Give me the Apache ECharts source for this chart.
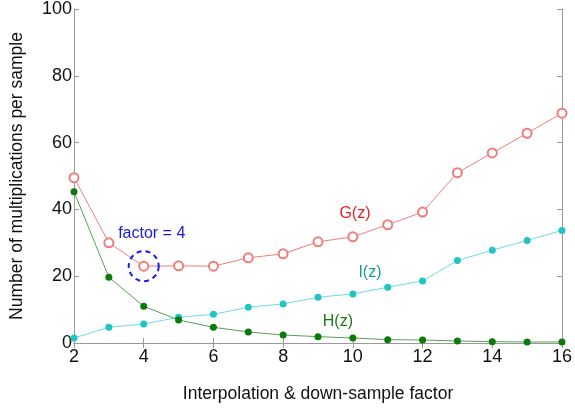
<!DOCTYPE html>
<html>
<head>
<meta charset="utf-8">
<script src="https://cdn.jsdelivr.net/npm/echarts@6/dist/echarts.min.js"></script>
<style>
  html, body { margin: 0; padding: 0; background: #fff; }
  #chart { width: 575px; height: 408px; }
</style>
</head>
<body>
<div id="chart"></div>
<script>
const factors = [2, 3, 4, 5, 6, 7, 8, 9, 10, 11, 12, 13, 14, 15, 16];
const gValues = [49.5, 30.0, 23.0, 23.1, 23.0, 25.5, 26.7, 30.3, 31.8, 35.4, 39.2, 51.0, 56.9, 62.8, 68.8];
const iValues = [1.5, 4.7, 5.7, 7.7, 8.6, 10.7, 11.7, 13.7, 14.7, 16.7, 18.6, 24.7, 27.8, 30.7, 33.7];
const hValues = [45.3, 19.7, 11.0, 6.9, 4.7, 3.3, 2.4, 1.9, 1.5, 1.0, 0.9, 0.6, 0.4, 0.3, 0.3];

const font = 'Liberation Sans, Arial, sans-serif';
const pairs = vals => factors.map((f, i) => [f, vals[i]]);

const textMark = (text, coord, color) => ({
    coord: coord,
    symbolSize: 0,
    label: { show: true, position: 'inside', formatter: text, color: color, fontSize: 16, fontFamily: font }
});

const chart = echarts.init(document.getElementById('chart'));
const frameLine = { show: true, lineStyle: { color: '#999', width: 1 } };
const frameTick = { show: true, inside: true, length: 5, lineStyle: { color: '#999' } };

chart.setOption({
    animation: false,
    grid: { left: 73, right: 12, top: 8, bottom: 63 },
    xAxis: [
        {
            type: 'value', min: 2, max: 16, interval: 2,
            axisLine: frameLine, axisTick: frameTick, splitLine: { show: false },
            axisLabel: { color: '#111', fontSize: 18, fontFamily: font, margin: 5 },
            name: 'Interpolation & down-sample factor', nameLocation: 'middle', nameGap: 42,
            nameTextStyle: { color: '#111', fontSize: 17.5, fontFamily: font }
        },
        {
            type: 'value', min: 2, max: 16, interval: 2, position: 'top',
            axisLine: frameLine, axisTick: frameTick, splitLine: { show: false },
            axisLabel: { show: false }
        }
    ],
    yAxis: [
        {
            type: 'value', min: 0, max: 100, interval: 20,
            axisLine: frameLine, axisTick: frameTick, splitLine: { show: false },
            axisLabel: { color: '#111', fontSize: 18, fontFamily: font, margin: 2 },
            name: 'Number of multiplications per sample', nameLocation: 'middle', nameGap: 48,
            nameTextStyle: { color: '#111', fontSize: 17.5, fontFamily: font }
        },
        {
            type: 'value', min: 0, max: 100, interval: 20, position: 'right',
            axisLine: frameLine, axisTick: frameTick, splitLine: { show: false },
            axisLabel: { show: false }
        }
    ],
    series: [
        {
            name: 'G(z)', type: 'line', data: pairs(gValues),
            symbol: 'emptyCircle', symbolSize: 9,
            lineStyle: { color: '#f07c7c', width: 1 },
            itemStyle: { color: '#f07c7c', borderColor: '#f07c7c', borderWidth: 1 },
            markPoint: {
                silent: true,
                data: [
                    {
                        coord: [4, 23], symbol: 'circle', symbolSize: 30,
                        itemStyle: { color: 'transparent', borderColor: '#1a1aee', borderWidth: 2, borderType: [5, 4] },
                        label: { show: false }
                    },
                    textMark('factor = 4', [4.23, 32.9], '#1a1aee'),
                    textMark('G(z)', [10.06, 38.6], '#e8202a')
                ]
            }
        },
        {
            name: 'I(z)', type: 'line', data: pairs(iValues),
            symbol: 'circle', symbolSize: 7,
            lineStyle: { color: '#6fdcdc', width: 1 },
            itemStyle: { color: '#22c4c4' },
            markPoint: { silent: true, data: [textMark('I(z)', [10.49, 21.1], '#1a9a9a')] }
        },
        {
            name: 'H(z)', type: 'line', data: pairs(hValues),
            symbol: 'circle', symbolSize: 7,
            lineStyle: { color: '#5a9e5a', width: 1 },
            itemStyle: { color: '#0b7a0b' },
            markPoint: { silent: true, data: [textMark('H(z)', [9.57, 6.5], '#1a7a1a')] }
        }
    ]
});
</script>
</body>
</html>
